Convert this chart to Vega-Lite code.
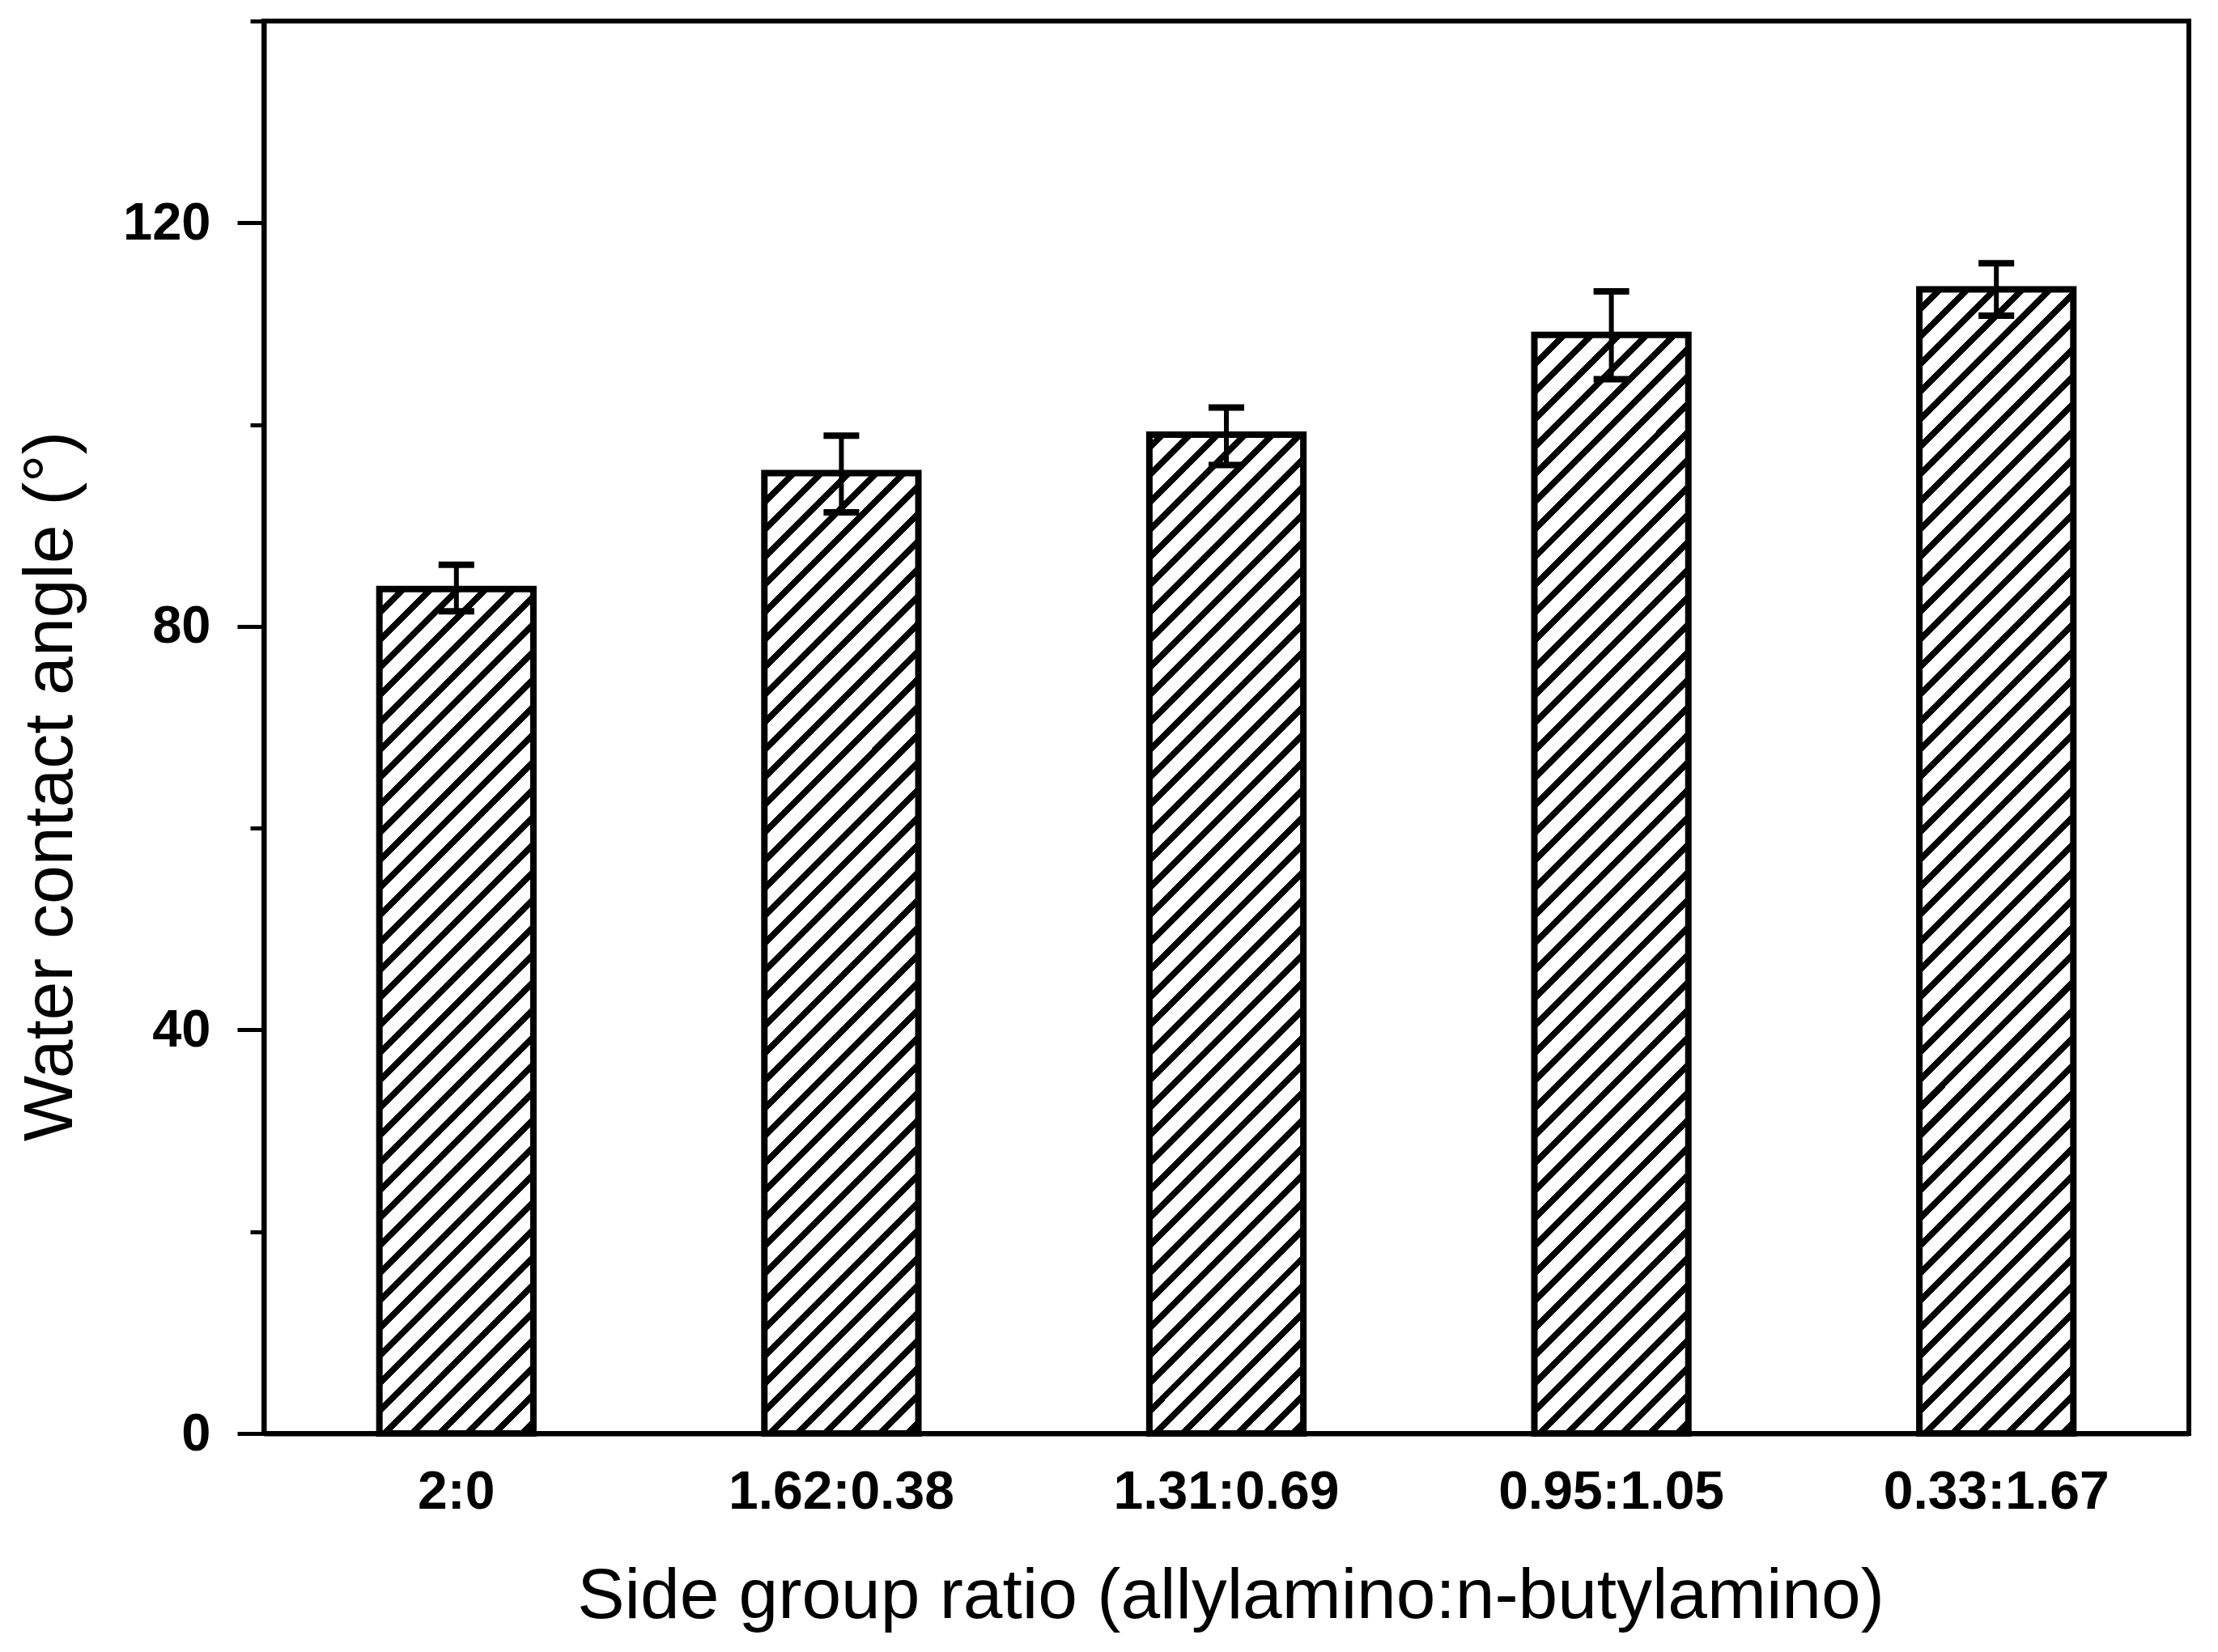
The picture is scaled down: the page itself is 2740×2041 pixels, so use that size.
{
  "$schema": "https://vega.github.io/schema/vega-lite/v6.json",
  "description": "Water contact angle vs side group ratio, hatched bars with error bars.",
  "autosize": "none",
  "padding": {"left": 326, "top": 26, "right": 36, "bottom": 270},
  "width": 2378,
  "height": 1745,
  "background": "white",
  "config": {
    "view": {"stroke": "#000", "strokeWidth": 6},
    "font": "Liberation Sans"
  },
  "data": {
    "values": [
      {"ratio": "2:0", "angle": 83.7, "lo": 81.5, "hi": 86.1},
      {"ratio": "1.62:0.38", "angle": 95.2, "lo": 91.3, "hi": 98.9},
      {"ratio": "1.31:0.69", "angle": 99.0, "lo": 96.0, "hi": 101.7},
      {"ratio": "0.95:1.05", "angle": 108.9, "lo": 104.5, "hi": 113.2},
      {"ratio": "0.33:1.67", "angle": 113.4, "lo": 110.8, "hi": 116.0}
    ]
  },
  "encoding": {
    "x": {
      "field": "ratio",
      "type": "nominal",
      "sort": null,
      "scale": {"paddingInner": 0.6, "paddingOuter": 0.3},
      "axis": {
        "title": "Side group ratio (allylamino:n-butylamino)",
        "titleFont": "Liberation Sans",
        "titleFontSize": 87.5,
        "titleFontWeight": "normal",
        "titleColor": "#000",
        "titleX": 1194,
        "titleY": 227,
        "titleBaseline": "alphabetic",
        "titleAlign": "center",
        "labelAngle": 0,
        "labelLimit": 0,
        "labelFont": "Liberation Sans",
        "labelFontSize": 66,
        "labelFontWeight": "bold",
        "labelColor": "#000",
        "labelBaseline": "alphabetic",
        "labelPadding": 92,
        "ticks": false,
        "domainColor": "#000",
        "domainWidth": 6
      }
    }
  },
  "layer": [
    {
      "mark": {
        "type": "bar",
        "fill": {
          "gradient": "linear",
          "x1": 0, "y1": 0, "x2": 0.14109, "y2": 1.10925,
          "stops": [
            {"offset": 0, "color": "#000"}, {"offset": 0.00653, "color": "#000"}, {"offset": 0.00653, "color": "#fff"}, {"offset": 0.02018, "color": "#fff"},
            {"offset": 0.02018, "color": "#000"}, {"offset": 0.02671, "color": "#000"}, {"offset": 0.02671, "color": "#fff"}, {"offset": 0.04036, "color": "#fff"},
            {"offset": 0.04036, "color": "#000"}, {"offset": 0.04688, "color": "#000"}, {"offset": 0.04688, "color": "#fff"}, {"offset": 0.06053, "color": "#fff"},
            {"offset": 0.06053, "color": "#000"}, {"offset": 0.06706, "color": "#000"}, {"offset": 0.06706, "color": "#fff"}, {"offset": 0.08071, "color": "#fff"},
            {"offset": 0.08071, "color": "#000"}, {"offset": 0.08724, "color": "#000"}, {"offset": 0.08724, "color": "#fff"}, {"offset": 0.10089, "color": "#fff"},
            {"offset": 0.10089, "color": "#000"}, {"offset": 0.10742, "color": "#000"}, {"offset": 0.10742, "color": "#fff"}, {"offset": 0.12107, "color": "#fff"},
            {"offset": 0.12107, "color": "#000"}, {"offset": 0.12760, "color": "#000"}, {"offset": 0.12760, "color": "#fff"}, {"offset": 0.14125, "color": "#fff"},
            {"offset": 0.14125, "color": "#000"}, {"offset": 0.14777, "color": "#000"}, {"offset": 0.14777, "color": "#fff"}, {"offset": 0.16142, "color": "#fff"},
            {"offset": 0.16142, "color": "#000"}, {"offset": 0.16795, "color": "#000"}, {"offset": 0.16795, "color": "#fff"}, {"offset": 0.18160, "color": "#fff"},
            {"offset": 0.18160, "color": "#000"}, {"offset": 0.18813, "color": "#000"}, {"offset": 0.18813, "color": "#fff"}, {"offset": 0.20178, "color": "#fff"},
            {"offset": 0.20178, "color": "#000"}, {"offset": 0.20831, "color": "#000"}, {"offset": 0.20831, "color": "#fff"}, {"offset": 0.22196, "color": "#fff"},
            {"offset": 0.22196, "color": "#000"}, {"offset": 0.22849, "color": "#000"}, {"offset": 0.22849, "color": "#fff"}, {"offset": 0.24214, "color": "#fff"},
            {"offset": 0.24214, "color": "#000"}, {"offset": 0.24866, "color": "#000"}, {"offset": 0.24866, "color": "#fff"}, {"offset": 0.26231, "color": "#fff"},
            {"offset": 0.26231, "color": "#000"}, {"offset": 0.26884, "color": "#000"}, {"offset": 0.26884, "color": "#fff"}, {"offset": 0.28249, "color": "#fff"},
            {"offset": 0.28249, "color": "#000"}, {"offset": 0.28902, "color": "#000"}, {"offset": 0.28902, "color": "#fff"}, {"offset": 0.30267, "color": "#fff"},
            {"offset": 0.30267, "color": "#000"}, {"offset": 0.30920, "color": "#000"}, {"offset": 0.30920, "color": "#fff"}, {"offset": 0.32285, "color": "#fff"},
            {"offset": 0.32285, "color": "#000"}, {"offset": 0.32938, "color": "#000"}, {"offset": 0.32938, "color": "#fff"}, {"offset": 0.34303, "color": "#fff"},
            {"offset": 0.34303, "color": "#000"}, {"offset": 0.34955, "color": "#000"}, {"offset": 0.34955, "color": "#fff"}, {"offset": 0.36320, "color": "#fff"},
            {"offset": 0.36320, "color": "#000"}, {"offset": 0.36973, "color": "#000"}, {"offset": 0.36973, "color": "#fff"}, {"offset": 0.38338, "color": "#fff"},
            {"offset": 0.38338, "color": "#000"}, {"offset": 0.38991, "color": "#000"}, {"offset": 0.38991, "color": "#fff"}, {"offset": 0.40356, "color": "#fff"},
            {"offset": 0.40356, "color": "#000"}, {"offset": 0.41009, "color": "#000"}, {"offset": 0.41009, "color": "#fff"}, {"offset": 0.42374, "color": "#fff"},
            {"offset": 0.42374, "color": "#000"}, {"offset": 0.43027, "color": "#000"}, {"offset": 0.43027, "color": "#fff"}, {"offset": 0.44392, "color": "#fff"},
            {"offset": 0.44392, "color": "#000"}, {"offset": 0.45044, "color": "#000"}, {"offset": 0.45044, "color": "#fff"}, {"offset": 0.46409, "color": "#fff"},
            {"offset": 0.46409, "color": "#000"}, {"offset": 0.47062, "color": "#000"}, {"offset": 0.47062, "color": "#fff"}, {"offset": 0.48427, "color": "#fff"},
            {"offset": 0.48427, "color": "#000"}, {"offset": 0.49080, "color": "#000"}, {"offset": 0.49080, "color": "#fff"}, {"offset": 0.50445, "color": "#fff"},
            {"offset": 0.50445, "color": "#000"}, {"offset": 0.51098, "color": "#000"}, {"offset": 0.51098, "color": "#fff"}, {"offset": 0.52463, "color": "#fff"},
            {"offset": 0.52463, "color": "#000"}, {"offset": 0.53116, "color": "#000"}, {"offset": 0.53116, "color": "#fff"}, {"offset": 0.54481, "color": "#fff"},
            {"offset": 0.54481, "color": "#000"}, {"offset": 0.55133, "color": "#000"}, {"offset": 0.55133, "color": "#fff"}, {"offset": 0.56498, "color": "#fff"},
            {"offset": 0.56498, "color": "#000"}, {"offset": 0.57151, "color": "#000"}, {"offset": 0.57151, "color": "#fff"}, {"offset": 0.58516, "color": "#fff"},
            {"offset": 0.58516, "color": "#000"}, {"offset": 0.59169, "color": "#000"}, {"offset": 0.59169, "color": "#fff"}, {"offset": 0.60534, "color": "#fff"},
            {"offset": 0.60534, "color": "#000"}, {"offset": 0.61187, "color": "#000"}, {"offset": 0.61187, "color": "#fff"}, {"offset": 0.62552, "color": "#fff"},
            {"offset": 0.62552, "color": "#000"}, {"offset": 0.63205, "color": "#000"}, {"offset": 0.63205, "color": "#fff"}, {"offset": 0.64570, "color": "#fff"},
            {"offset": 0.64570, "color": "#000"}, {"offset": 0.65223, "color": "#000"}, {"offset": 0.65223, "color": "#fff"}, {"offset": 0.66587, "color": "#fff"},
            {"offset": 0.66587, "color": "#000"}, {"offset": 0.67240, "color": "#000"}, {"offset": 0.67240, "color": "#fff"}, {"offset": 0.68605, "color": "#fff"},
            {"offset": 0.68605, "color": "#000"}, {"offset": 0.69258, "color": "#000"}, {"offset": 0.69258, "color": "#fff"}, {"offset": 0.70623, "color": "#fff"},
            {"offset": 0.70623, "color": "#000"}, {"offset": 0.71276, "color": "#000"}, {"offset": 0.71276, "color": "#fff"}, {"offset": 0.72641, "color": "#fff"},
            {"offset": 0.72641, "color": "#000"}, {"offset": 0.73294, "color": "#000"}, {"offset": 0.73294, "color": "#fff"}, {"offset": 0.74659, "color": "#fff"},
            {"offset": 0.74659, "color": "#000"}, {"offset": 0.75312, "color": "#000"}, {"offset": 0.75312, "color": "#fff"}, {"offset": 0.76677, "color": "#fff"},
            {"offset": 0.76677, "color": "#000"}, {"offset": 0.77329, "color": "#000"}, {"offset": 0.77329, "color": "#fff"}, {"offset": 0.78694, "color": "#fff"},
            {"offset": 0.78694, "color": "#000"}, {"offset": 0.79347, "color": "#000"}, {"offset": 0.79347, "color": "#fff"}, {"offset": 0.80712, "color": "#fff"},
            {"offset": 0.80712, "color": "#000"}, {"offset": 0.81365, "color": "#000"}, {"offset": 0.81365, "color": "#fff"}, {"offset": 0.82730, "color": "#fff"},
            {"offset": 0.82730, "color": "#000"}, {"offset": 0.83383, "color": "#000"}, {"offset": 0.83383, "color": "#fff"}, {"offset": 0.84748, "color": "#fff"},
            {"offset": 0.84748, "color": "#000"}, {"offset": 0.85401, "color": "#000"}, {"offset": 0.85401, "color": "#fff"}, {"offset": 0.86766, "color": "#fff"},
            {"offset": 0.86766, "color": "#000"}, {"offset": 0.87418, "color": "#000"}, {"offset": 0.87418, "color": "#fff"}, {"offset": 0.88783, "color": "#fff"},
            {"offset": 0.88783, "color": "#000"}, {"offset": 0.89436, "color": "#000"}, {"offset": 0.89436, "color": "#fff"}, {"offset": 0.90801, "color": "#fff"},
            {"offset": 0.90801, "color": "#000"}, {"offset": 0.91454, "color": "#000"}, {"offset": 0.91454, "color": "#fff"}, {"offset": 0.92819, "color": "#fff"},
            {"offset": 0.92819, "color": "#000"}, {"offset": 0.93472, "color": "#000"}, {"offset": 0.93472, "color": "#fff"}, {"offset": 0.94837, "color": "#fff"},
            {"offset": 0.94837, "color": "#000"}, {"offset": 0.95490, "color": "#000"}, {"offset": 0.95490, "color": "#fff"}, {"offset": 0.96855, "color": "#fff"},
            {"offset": 0.96855, "color": "#000"}, {"offset": 0.97507, "color": "#000"}, {"offset": 0.97507, "color": "#fff"}, {"offset": 0.98872, "color": "#fff"},
            {"offset": 0.98872, "color": "#000"}, {"offset": 0.99525, "color": "#000"}, {"offset": 0.99525, "color": "#fff"}, {"offset": 1, "color": "#fff"}
          ]
        }
      },
      "encoding": {
        "y": {
          "datum": 120,
          "type": "quantitative",
          "scale": {"domain": [0, 140], "nice": false, "zero": true},
          "axis": {
            "title": "Water contact angle (°)",
            "titleFont": "Liberation Sans",
            "titleFontSize": 86,
            "titleFontWeight": "normal",
            "titleColor": "#000",
            "titleAngle": -90,
            "titleX": -238,
            "titleY": 945,
            "titleAlign": "center",
            "titleBaseline": "alphabetic",
            "values": [0, 20, 40, 60, 80, 100, 120, 140],
            "labelExpr": "datum.value % 40 === 0 && datum.value < 140 ? datum.label : ''",
            "labelFont": "Liberation Sans",
            "labelFontSize": 65,
            "labelFontWeight": "bold",
            "labelColor": "#000",
            "labelPadding": 33,
            "tickSize": {"condition": {"test": "datum.value % 40 === 0", "value": 33}, "value": 17},
            "tickWidth": 5,
            "tickColor": "#000",
            "domainColor": "#000",
            "domainWidth": 6,
            "grid": false
          }
        }
      }
    },
    {
      "mark": {"type": "bar", "fill": "#fff", "stroke": "#fff", "strokeWidth": 4},
      "encoding": {
        "y": {"field": "angle", "type": "quantitative"},
        "y2": {"datum": 120}
      }
    },
    {
      "mark": {"type": "bar", "fillOpacity": 0, "stroke": "#000", "strokeWidth": 8, "strokeJoin": "miter"},
      "encoding": {
        "y": {"field": "angle", "type": "quantitative"}
      }
    },
    {
      "mark": {"type": "rule", "color": "#000", "opacity": 1, "strokeWidth": 6},
      "encoding": {
        "y": {"field": "lo", "type": "quantitative"},
        "y2": {"field": "hi"}
      }
    },
    {
      "mark": {"type": "tick", "color": "#000", "opacity": 1, "size": 44, "thickness": 8},
      "encoding": {
        "y": {"field": "hi", "type": "quantitative"}
      }
    },
    {
      "mark": {"type": "tick", "color": "#000", "opacity": 1, "size": 44, "thickness": 8},
      "encoding": {
        "y": {"field": "lo", "type": "quantitative"}
      }
    }
  ]
}
